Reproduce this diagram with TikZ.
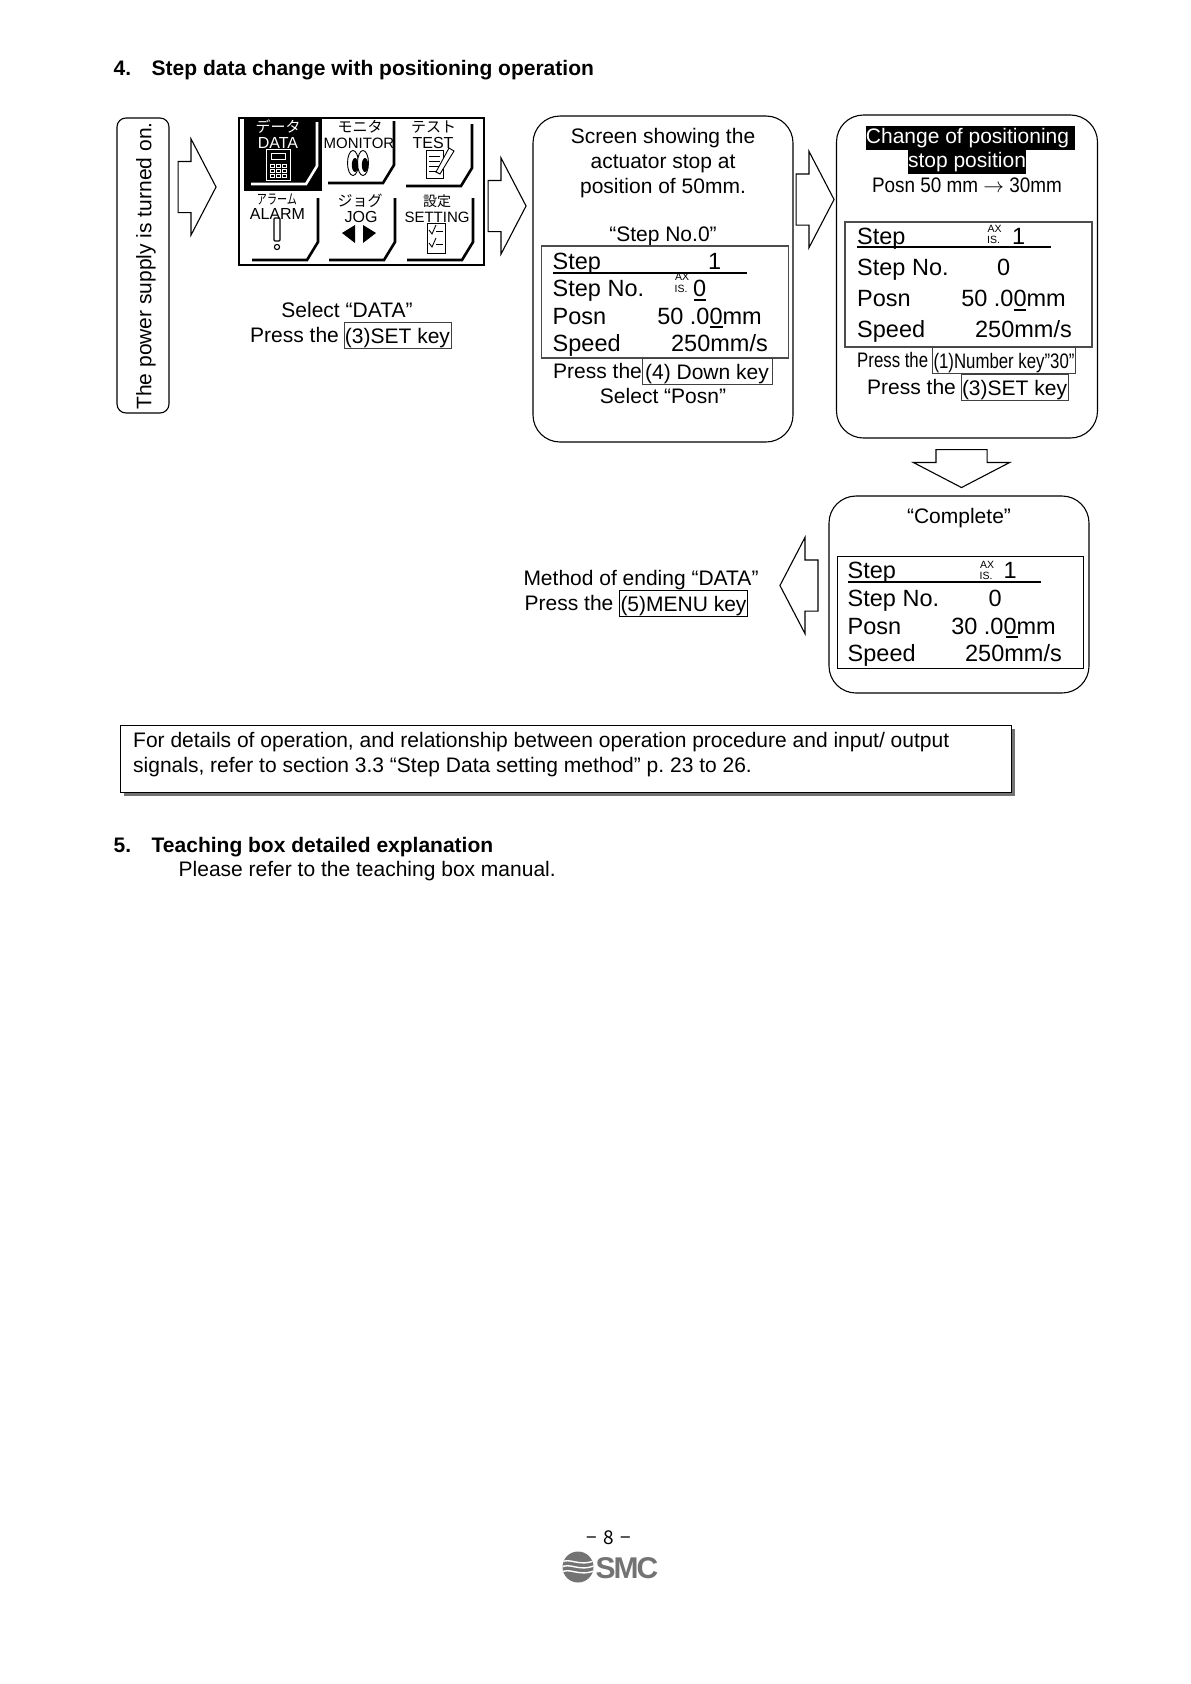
\documentclass[tikz,border=0pt]{standalone}
\usepackage{fontspec}
\setmainfont{Liberation Sans}
\newfontfamily\cjkfont{Noto Sans CJK JP}
\newfontfamily\narrowcjk[FakeStretch=0.72]{Noto Sans CJK JP}
\newfontfamily\narrowfont[FakeStretch=0.8]{Liberation Sans}
\newfontfamily\midfont[FakeStretch=0.9]{Liberation Sans}
\usetikzlibrary{shapes.arrows,shadows,positioning}

\begin{document}
\begin{tikzpicture}[
    x=1pt, y=-1pt,
    font=\fontsize{21}{25}\selectfont,
    bodytext/.style={inner sep=0pt, anchor=base west},
    centertext/.style={inner sep=0pt, anchor=base},
    blocktext/.style={inner sep=0pt, align=center},
    headtext/.style={inner sep=0pt, anchor=base west, font=\fontsize{21}{25}\selectfont\bfseries},
    lcdtext/.style={inner sep=0pt, anchor=base west, font=\fontsize{23.5}{26}\selectfont},
    lcdvalue/.style={inner sep=0pt, anchor=base east, font=\fontsize{23.5}{26}\selectfont},
    axistext/.style={inner sep=0pt, font=\fontsize{10.5}{11}\selectfont},
    menutext/.style={inner sep=0pt, font=\fontsize{16}{18}\selectfont},
    menukana/.style={inner sep=0pt, font=\fontsize{15}{17}\cjkfont},
    keybox/.style={draw=black!75, line width=0.9pt, inner xsep=1pt, inner ysep=0.5pt, text height=20.5pt, text depth=4.5pt},
    screenbox/.style={draw=black, line width=1.1pt, rounded corners=27pt},
    lcdbox/.style={draw=black!70, line width=1.1pt},
    powerbox/.style={draw=black, line width=1.1pt, rounded corners=9pt},
    blockarrow/.style={shape=single arrow, draw=black, line width=1.1pt, anchor=tail, inner xsep=0pt, inner ysep=25pt,
        minimum height=38pt, single arrow head extend=22.5pt, single arrow tip angle=125},
    inverttext/.style={fill=black, text=white, inner sep=0pt, minimum height=24pt, text height=16pt, text depth=4.5pt},
    lcdline/.style={draw=black, line width=1.3pt},
    menubracket/.style={draw=black, line width=2.6pt},
    iconline/.style={draw=black, line width=0.9pt}
]
\useasboundingbox (0,0) rectangle (1191,1684);
\node[headtext] (headfour) at (113.5,75) {4.};
\node[headtext] (headfourtext) at (151.5,75) {Step data change with positioning operation};
\node[powerbox, minimum width=52pt, minimum height=295pt] (powerbox) at (143,265.5) {};
\node[inner sep=0pt, rotate=90] (powertext) at (146,266) {The power supply is turned on.};
\node[blockarrow] (arrowone) at (177.5,187) {};
\node[draw=black, line width=1.2pt, minimum width=245pt, minimum height=147pt] (menubox) at (361.5,191.5) {};
\node[fill=black, minimum width=78pt, minimum height=74pt] (datacell) at (283,154) {};
\foreach \mx/\my/\mcol in {317/166/white, 394/165/black, 472/168/black, 318/242/black, 395/242/black, 473/242/black}
    \draw[menubracket, draw=\mcol, shift={(\mx,\my)}] (0,-44) -- (0,0) -- (-11,18) -- (-66,18);
\node[menukana, text=white] (datakana) at (278,127) {データ};
\node[menutext, text=white] (datatext) at (278,143) {DATA};
\node[menukana] (monitorkana) at (360,127) {モニタ};
\node[menutext, font=\fontsize{15}{18}\selectfont] (monitortext) at (359,143) {MONITOR};
\node[menukana] (testkana) at (433.5,127) {テスト};
\node[menutext] (testtext) at (433,143) {TEST};
\node[menukana, font=\fontsize{14}{15}\narrowcjk] (alarmkana) at (277,199) {アラーム};
\node[menutext] (alarmtext) at (277.5,214) {ALARM};
\node[menukana] (jogkana) at (360,201) {ジョグ};
\node[menutext] (jogtext) at (361,217) {JOG};
\node[menukana, font=\fontsize{14}{16}\cjkfont] (settingkana) at (437,201) {設定};
\node[menutext, font=\fontsize{15}{18}\selectfont] (settingtext) at (437,217) {SETTING};
\draw[white, line width=1pt] (266,149) rectangle (290,180);
\draw[white, line width=1pt] (271,153) rectangle (285,159);
\foreach \bx in {270,276,282}
    \foreach \by in {164,169,174}
        \draw[white, line width=0.9pt] (\bx,\by) rectangle ++(4,3);
\draw[iconline, fill=white] (353,163) ellipse (5.5pt and 12.5pt);
\draw[iconline, fill=white] (363,163) ellipse (5.5pt and 12.5pt);
\fill (355,165) ellipse (3.2pt and 7pt);
\fill (365,165) ellipse (3.2pt and 7pt);
\draw[iconline, fill=white] (426,150) rectangle (443,178);
\foreach \ly in {156,161,166,171}
    \draw[iconline] (429,\ly) -- (440,\ly);
\draw[iconline, fill=white] (436,172) -- (449,148) -- (454,151) -- (440,174) -- cycle;
\draw[iconline, line width=1.1pt, rounded corners=1pt] (274,218) rectangle (280,241);
\draw[iconline, line width=1.1pt] (277,247) circle (2.6pt);
\fill (342,233) -- (355,225) -- (355,243) -- cycle;
\fill (363,225) -- (376,233) -- (363,243) -- cycle;
\draw[iconline, fill=white] (427,223) rectangle (445,253);
\foreach \ly in {230,243}{
    \draw[iconline] (429,\ly) -- (432,\ly+4) -- (436,\ly-5);
    \draw[iconline] (436,\ly+1) -- (443,\ly+1);
}
\node[centertext] (selectdata) at (347,317) {Select “DATA”};
\node[bodytext] (pressset) at (250,342) {Press the};
\node[keybox] (setkey) at (397.5,335) {(3)SET key};
\node[blockarrow] (arrowtwo) at (487.5,206) {};
\node[screenbox, minimum width=260pt, minimum height=326pt] (posnscreen) at (663,279) {};
\node[blocktext] (posntitle) at (663,163.5) {Screen showing the\\actuator stop at\\position of 50mm.};
\node[centertext] (stepzero) at (663,241) {“Step No.0”};
\node[lcdbox, minimum width=247pt, minimum height=112pt] (posnlcd) at (665,302) {};
\foreach \rowname/\rowy [count=\i] in {Step/269, Step No./296, Posn/324, Speed/351}
    \node[lcdtext] (posnrow\i) at (552.5,\rowy) {\rowname};
\node[lcdvalue] (posnone) at (721.5,269) {1};
\node[axistext] (posnax) at (682,277) {AX};
\node[axistext] (posnis) at (681,289) {IS.};
\node[lcdvalue] (posnzero) at (706.5,296) {0};
\node[lcdvalue] (posnmm) at (762,324) {50 .00mm};
\node[lcdvalue] (posnspeed) at (768,351) {250mm/s};
\draw[lcdline] (553,273) -- (746.5,273);
\draw[lcdline] (694,300) -- (706,300);
\draw[lcdline] (710,327) -- (723,327);
\node[bodytext] (pressdown) at (553,378) {Press the};
\node[keybox, minimum width=130pt] (downkey) at (707,371.5) {(4) Down key};
\node[centertext] (selectposn) at (663,403) {Select “Posn”};
\node[blockarrow] (arrowthree) at (795.5,199.5) {};
\node[screenbox, minimum width=261pt, minimum height=323pt] (changescreen) at (967,276.5) {};
\node[inverttext, minimum width=209pt] (changeline) at (970,138) {Change of positioning\hspace*{5pt}};
\node[inverttext, minimum width=117pt] (changestop) at (967,162) {stop position};
\node[centertext, font=\fontsize{21}{25}\midfont] (changeposn) at (967,192) {Posn 50 mm $\rightarrow$ 30mm};
\node[lcdbox, minimum width=247pt, minimum height=125pt] (changelcd) at (968.5,284.5) {};
\foreach \rowname/\rowy [count=\i] in {Step/244, Step No./275, Posn/306, Speed/337}
    \node[lcdtext] (changerow\i) at (857,\rowy) {\rowname};
\node[axistext] (changeax) at (994.5,229) {AX};
\node[axistext] (changeis) at (993.5,240) {IS.};
\node[lcdvalue] (changeone) at (1025.5,244) {1};
\node[lcdvalue] (changezero) at (1010.5,275) {0};
\node[lcdvalue] (changemm) at (1066,306) {50 .00mm};
\node[lcdvalue] (changespeed) at (1072,337) {250mm/s};
\draw[lcdline] (857,247) -- (1051,247);
\draw[lcdline] (1014,310) -- (1026,310);
\node[bodytext, font=\fontsize{21}{25}\narrowfont] (pressnumber) at (857,367) {Press the};
\node[keybox, font=\fontsize{21}{25}\narrowfont] (numberkey) at (1004,360.5) {(1)Number key”30”};
\node[bodytext] (pressagain) at (867,394) {Press the};
\node[keybox] (setagain) at (1014.5,387) {(3)SET key};
\node[blockarrow, rotate=-90] (arrowfour) at (961.5,449) {};
\node[screenbox, minimum width=260pt, minimum height=197pt] (donescreen) at (959,594.5) {};
\node[centertext] (donetitle) at (959,523) {“Complete”};
\node[draw=black, line width=0.9pt, minimum width=246pt, minimum height=112pt] (donelcd) at (960,612) {};
\foreach \rowname/\rowy [count=\i] in {Step/578, Step No./606, Posn/634, Speed/661}
    \node[lcdtext] (donerow\i) at (847.5,\rowy) {\rowname};
\node[axistext] (doneax) at (987,565) {AX};
\node[axistext] (doneis) at (986,576) {IS.};
\node[lcdvalue] (doneone) at (1017,578) {1};
\node[lcdvalue] (donezero) at (1002,606) {0};
\node[lcdvalue] (donemm) at (1056,634) {30 .00mm};
\node[lcdvalue] (donespeed) at (1062,661) {250mm/s};
\draw[lcdline] (848,582) -- (1041,582);
\draw[lcdline] (1006,637) -- (1018,637);
\node[blockarrow, rotate=180] (arrowfive) at (818.5,585.5) {};
\node[centertext] (endingtext) at (641,585) {Method of ending “DATA”};
\node[bodytext] (pressmenu) at (524.5,610) {Press the};
\node[keybox, draw=black] (menukey) at (683.5,603) {(5)MENU key};
\node[draw=black, line width=1.3pt, fill=white, anchor=north west, minimum width=891pt, minimum height=67pt, inner sep=0pt,
    drop shadow={shadow xshift=3pt, shadow yshift=-4pt, fill=black!55, opacity=1}] (notebox) at (120,724.5) {};
\node[inner sep=0pt, anchor=north west, align=left] (notetext) at (133,732) {For details of operation, and relationship between operation procedure and input/ output\\signals, refer to section 3.3 “Step Data setting method” p.\ 23 to 26.};
\node[headtext] (headfive) at (113.5,852) {5.};
\node[headtext] (headfivetext) at (151.5,852) {Teaching box detailed explanation};
\node[bodytext] (refertext) at (178.5,876) {Please refer to the teaching box manual.};
\node[inner sep=0pt, font=\fontsize{19}{21}\cjkfont] (pagenumber) at (609,1538) {−\,\,8\,\,−};
\begin{scope}
    \clip (578,1567) circle (15.5pt);
    \fill[black!55] (560,1550) rectangle (596,1584);
    \foreach \wy in {1561,1566,1571}
        \draw[white, line width=1.4pt] (560,\wy+2) .. controls (570,\wy-5) and (578,\wy+7) .. (596,\wy-1);
\end{scope}
\node[inner sep=0pt, anchor=base west, text=black!55, font=\fontsize{30}{30}\selectfont\bfseries] (smcmark) at (595.5,1578) {S\kern-2pt M\kern-2pt C};
\end{tikzpicture}
\end{document}
